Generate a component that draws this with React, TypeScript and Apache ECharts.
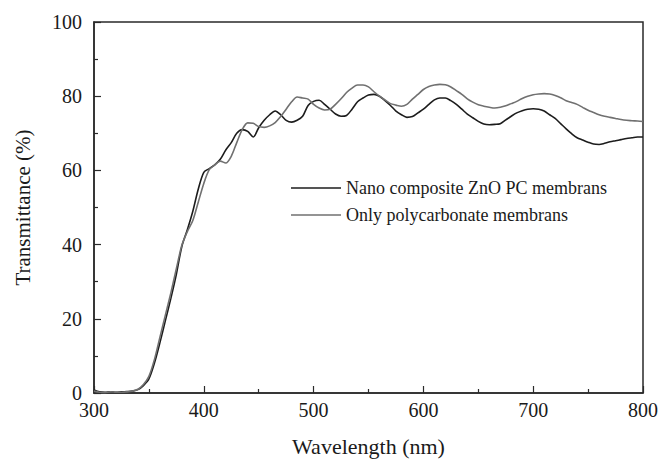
import React, { useEffect, useRef } from "react";
import * as echarts from "echarts";

const wavelengths = [
  300, 305, 310, 315, 320, 325, 330, 335, 340, 345, 350, 355, 360, 365, 370, 375, 380, 385, 390, 395,
  400, 405, 410, 415, 420, 425, 430, 435, 440, 445, 450, 455, 460, 465, 470, 475, 480, 485, 490, 495,
  500, 505, 510, 515, 520, 525, 530, 535, 540, 545, 550, 555, 560, 565, 570, 575, 580, 585, 590, 595,
  600, 605, 610, 615, 620, 625, 630, 635, 640, 645, 650, 655, 660, 665, 670, 675, 680, 685, 690, 695,
  700, 705, 710, 715, 720, 725, 730, 735, 740, 745, 750, 755, 760, 765, 770, 775, 780, 785, 790, 795, 800,
];

const nanoZnO = [
  0.8, 0.3, 0.2, 0.3, 0.2, 0.3, 0.4, 0.5, 0.9, 2.0, 3.8, 8.0, 13.5, 19.5, 25.5, 32, 39.5, 44, 49, 55,
  59.5, 60.5, 61.5, 63, 65.5, 67.5, 70, 71, 70.5, 69, 71.5, 73.5, 75, 76, 75, 73.5, 73, 73.5, 74.6, 77.5,
  78.6, 78.9, 77.8, 76.5, 75.2, 74.6, 74.8, 76.5, 78.5, 79.5, 80.3, 80.5, 80, 78.8, 77.5, 76, 75, 74.3, 74.5, 75.5,
  76.5, 77.8, 79, 79.5, 79.5, 78.8, 77.8, 76.5, 75.2, 74.2, 73.2, 72.5, 72.3, 72.4, 72.6, 73.6, 74.6, 75.5, 76.1, 76.5,
  76.6, 76.5, 76, 75, 74, 72.6, 71.2, 69.9, 68.8, 68.2, 67.6, 67.1, 67, 67.3, 67.7, 68, 68.3, 68.6, 68.8, 69, 69,
];

const onlyPC = [
  0.5, 0.2, 0.1, 0.3, 0.2, 0.2, 0.3, 0.5, 1.0, 2.3, 4.5, 9, 15, 21, 27, 33.5, 39.8, 43.5, 46.5, 51.5,
  56.5, 60.2, 61.5, 62.5, 62, 63.8, 67.5, 71, 72.8, 72.7, 71.8, 71.6, 72, 72.9, 74.5, 76.5, 78.5, 79.8, 79.5, 79.2,
  77.8, 76.8, 76.3, 76.5, 77.8, 79.3, 81, 82.2, 83, 83, 82.5, 81.2, 80, 79, 78, 77.6, 77.3, 77.8, 79.2, 80.5,
  81.8, 82.6, 83, 83.2, 83.1, 82.5, 81.5, 80.5, 79.3, 78.4, 77.7, 77.3, 77, 76.8, 77, 77.4, 78, 78.6, 79.4, 80,
  80.4, 80.6, 80.7, 80.6, 80.2, 79.6, 78.8, 78.3, 77.8, 77, 76.2, 75.6, 75, 74.6, 74.3, 74, 73.7, 73.5, 73.4, 73.3, 73.2,
];

const seriesNames = ["Nano composite ZnO PC membrans", "Only polycarbonate membrans"];
const xTitle = "Wavelength (nm)";
const yTitle = "Transmittance (%)";

const FONT = "'Liberation Serif', 'Times New Roman', serif";

export default function App() {
  const ref = useRef<HTMLDivElement>(null);
  useEffect(() => {
    if (!ref.current) return;
    const chart = echarts.init(ref.current, undefined, { renderer: "svg" });
    const axisColor = "#2a2a2a";
    chart.setOption({
      animation: false,
      backgroundColor: "#ffffff",
      textStyle: { fontFamily: FONT },
      grid: {
        left: 94,
        right: 17,
        top: 22,
        bottom: 61,
        show: true,
        borderColor: axisColor,
        borderWidth: 1.5,
        backgroundColor: "transparent",
      },
      legend: {
        orient: "vertical",
        left: 291,
        top: 179,
        padding: 0,
        icon: "rect",
        itemWidth: 50,
        itemHeight: 1.6,
        itemGap: 9,
        textStyle: { fontFamily: FONT, fontSize: 18, color: "#1a1a1a", lineHeight: 18 },
        data: seriesNames,
      },
      xAxis: {
        type: "value",
        min: 300,
        max: 800,
        interval: 100,
        name: xTitle,
        nameLocation: "middle",
        nameGap: 42,
        nameTextStyle: { fontFamily: FONT, fontSize: 22, color: "#1a1a1a" },
        axisLine: { show: true, lineStyle: { color: axisColor, width: 1.5 } },
        axisTick: { show: true, inside: true, length: 7, lineStyle: { color: axisColor, width: 1.2 } },
        minorTick: { show: true, splitNumber: 2, length: 4, lineStyle: { color: axisColor, width: 1.2 } },
        splitLine: { show: false },
        axisLabel: { fontFamily: FONT, fontSize: 20, color: "#1a1a1a", margin: 7 },
      },
      yAxis: {
        type: "value",
        min: 0,
        max: 100,
        interval: 20,
        name: yTitle,
        nameLocation: "middle",
        nameGap: 61,
        nameTextStyle: { fontFamily: FONT, fontSize: 21, color: "#1a1a1a" },
        axisLine: { show: true, lineStyle: { color: axisColor, width: 1.5 } },
        axisTick: { show: true, inside: true, length: 7, lineStyle: { color: axisColor, width: 1.2 } },
        minorTick: { show: true, splitNumber: 2, length: 4, lineStyle: { color: axisColor, width: 1.2 } },
        splitLine: { show: false },
        axisLabel: { fontFamily: FONT, fontSize: 20, color: "#1a1a1a", margin: 12 },
      },
      series: [
        {
          name: seriesNames[0],
          type: "line",
          data: wavelengths.map((w, i) => [w, nanoZnO[i]]),
          showSymbol: false,
          symbol: "none",
          smooth: 0.3,
          lineStyle: { color: "#1c1c1c", width: 1.6 },
          itemStyle: { color: "#1c1c1c" },
        },
        {
          name: seriesNames[1],
          type: "line",
          data: wavelengths.map((w, i) => [w, onlyPC[i]]),
          showSymbol: false,
          symbol: "none",
          smooth: 0.3,
          lineStyle: { color: "#707070", width: 1.6 },
          itemStyle: { color: "#707070" },
        },
      ],
    });
    return () => chart.dispose();
  }, []);
  return (
    <div
      ref={ref}
      style={{ position: "fixed", left: 0, top: 0, width: 661, height: 462, background: "#fff" }}
    />
  );
}
